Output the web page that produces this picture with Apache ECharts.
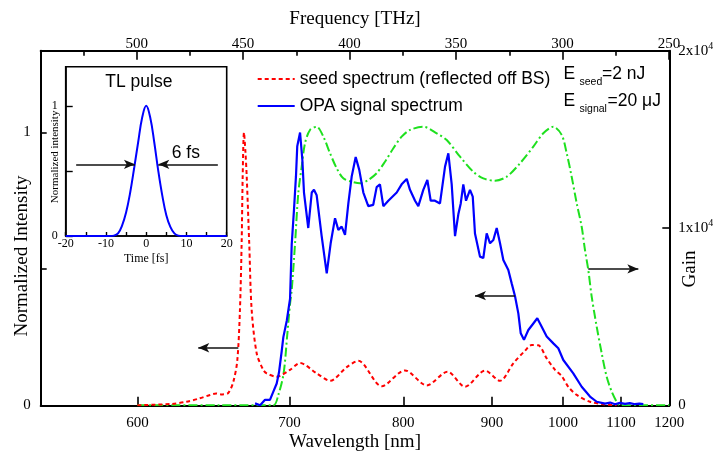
<!DOCTYPE html>
<html><head><meta charset="utf-8">
<script src="https://cdn.jsdelivr.net/npm/echarts@6/dist/echarts.min.js"></script>
<style>html,body{margin:0;padding:0;background:#fff}#c{width:713px;height:451px}</style>
</head><body><div id="c"></div>
<script>
// speed of light in nm*THz
const C = 299792.458;

// ---- tick labels ----
const wavelengthTicks = [600, 700, 800, 900, 1000, 1100, 1200];
const freqMajorTicks = [250, 300, 350, 400, 450, 500];
const freqMinorTicks = [275, 325, 375, 425, 475, 525];
const leftTicks = [0, 0.5, 1];
const leftLabels = [0, 1];
const insetTimeLabels = [-20, -10, 0, 10, 20];

// ---- seed spectrum (reflected off BS): wavelength nm / normalized intensity ----
const seedNm = [600, 620, 629, 637, 644, 648, 652, 656, 659.5, 662.2, 664.0, 665.2, 665.9, 666.8, 667.8, 668.7, 670.5, 672.2, 675.8, 680.5, 683, 690.4, 700.5, 708.3, 721.6, 732.7, 747.0, 757.2, 778.9, 801.6, 824.1, 846.9, 867.0, 891.2, 910.3, 927.9, 943.9, 953.4, 962.8, 975.2, 987.8, 998.1, 1008.5, 1022.1, 1044.3, 1067.5, 1092];
const seedVal = [0, 0.005, 0.013, 0.025, 0.038, 0.043, 0.04, 0.045, 0.087, 0.166, 0.35, 0.6, 0.84, 1.0, 0.93, 0.84, 0.59, 0.35, 0.19, 0.13, 0.117, 0.105, 0.13, 0.155, 0.117, 0.09, 0.14, 0.163, 0.07, 0.128, 0.073, 0.123, 0.068, 0.127, 0.09, 0.154, 0.2, 0.221, 0.22, 0.172, 0.13, 0.107, 0.068, 0.038, 0.013, 0.004, 0];

// ---- OPA signal spectrum ----
const opaNm = [674.6, 678.2, 681.8, 685.4, 687.9, 690.4, 692.1, 694.2, 695.4, 698, 700.5, 701.8, 703.6, 705.1, 706.1, 708.3, 710.1, 711.4, 714.8, 717.6, 719.4, 721.6, 725.7, 729.9, 733.2, 736.9, 739.7, 742.6, 745.5, 748.4, 751.4, 754.9, 758.1, 761.8, 766.3, 770.9, 774.1, 777.2, 780.4, 785.2, 793.4, 798.3, 803.4, 806.7, 811.9, 815.3, 820.5, 824.8, 828.4, 833, 838.5, 844.1, 847.8, 851.6, 855.4, 859.2, 862, 865, 868.2, 872.9, 876.2, 878.9, 885, 889.1, 893.3, 897.5, 901.7, 906, 910.3, 914.6, 921.2, 925.7, 930.2, 934.7, 938, 942.5, 948.6, 955.7, 961.4, 967.8, 975.2, 985.2, 992.8, 1000.6, 1016.5, 1030.3, 1044.3, 1055.9, 1070.6, 1080, 1088.9, 1098, 1107.8, 1117, 1127.3, 1136, 1144.1];
const opaVal = [0.007, 0, 0.02, 0.02, 0.05, 0.08, 0.12, 0.2, 0.25, 0.31, 0.39, 0.59, 0.72, 0.84, 0.95, 1.0, 0.9, 0.78, 0.65, 0.78, 0.79, 0.77, 0.62, 0.484, 0.594, 0.686, 0.643, 0.655, 0.625, 0.74, 0.84, 0.91, 0.863, 0.78, 0.73, 0.735, 0.8, 0.81, 0.73, 0.75, 0.78, 0.81, 0.83, 0.79, 0.75, 0.73, 0.79, 0.826, 0.75, 0.75, 0.74, 0.875, 0.924, 0.81, 0.62, 0.7, 0.74, 0.81, 0.75, 0.79, 0.765, 0.63, 0.545, 0.54, 0.63, 0.594, 0.606, 0.65, 0.594, 0.533, 0.496, 0.447, 0.4, 0.337, 0.264, 0.24, 0.276, 0.3, 0.319, 0.288, 0.252, 0.227, 0.209, 0.166, 0.117, 0.068, 0.032, 0.013, 0.006, 0.01, 0.004, 0.009, 0.005, 0.008, 0.004, 0.006, 0.004];

// ---- OPA gain (right axis) ----
const gainNm = [600, 650, 687.9, 691.6, 695.6, 698.4, 700.5, 701.8, 704.4, 706.9, 709.6, 712.2, 716.2, 721.6, 727.1, 732.7, 738.3, 744, 751.4, 758.8, 766.3, 774.1, 782, 790.1, 798.3, 806.7, 820.5, 834.9, 846, 861.2, 876.9, 889.1, 903.8, 919, 937, 955.7, 970.2, 985.2, 998.1, 1006, 1013.9, 1022.1, 1030.3, 1035.8, 1041.4, 1047.2, 1055.9, 1064.7, 1073.6, 1082.8, 1092, 1098.2, 1200];
const gainVal = [0, 0, 0, 580, 1800, 4000, 5700, 6500, 9140, 11960, 13460, 14780, 15530, 15710, 15150, 14210, 13370, 12800, 12610, 12520, 12710, 13090, 13740, 14500, 15150, 15530, 15710, 15340, 14960, 14020, 13170, 12800, 12670, 12890, 13650, 14590, 15340, 15710, 15250, 14210, 12890, 11390, 10070, 8760, 7630, 6130, 4430, 2930, 1610, 770, 200, 0, 0];

// ---- inset: transform-limited pulse ----
const pulseT = [-20, -15, -10, -9, -8, -7, -6, -5, -4, -3, -2, -1, 0, 1, 2, 3, 4, 5, 6, 7, 8, 9, 10, 15, 20];
const pulseI = [0, 0, 0, 0, 0.003, 0.02, 0.08, 0.18, 0.33, 0.52, 0.72, 0.91, 1.0, 0.91, 0.72, 0.5, 0.31, 0.16, 0.07, 0.02, 0.003, 0, 0, 0, 0];

// ---- annotation arrows (data coordinates) ----
const seedArrow = {fromNm: 662.9, toNm: 636.4, y: 0.211};
const opaArrow = {fromNm: 930.2, toNm: 878.9, y: 0.402};
const gainArrow = {fromNm: 1041.4, toNm: 1134, y: 7690};
const fwhmArrows = [{from: -17.4, to: -2.8, y: 0.55}, {from: 17.8, to: 3.0, y: 0.55}];

const serif = 'Liberation Serif';
const sans = 'Liberation Sans';
const toF = nm => C / nm;
const pairs = (xs, ys, fx) => xs.map((x, i) => [fx ? fx(x) : x, ys[i]]);

const arrowLine = (x1, x2, y) => [{coord: [x1, y]}, {coord: [x2, y]}];
const markArrows = (list) => ({
  silent: true, symbol: ['none', 'arrow'], symbolSize: [7, 11],
  label: {show: false}, lineStyle: {color: '#111', width: 1.5, type: 'solid'},
  emphasis: {disabled: true}, animation: false, data: list
});

const mkLine = (w) => ({show: true, onZero: false, lineStyle: {color: '#000', width: w}});
const mkTick = (len, w, values) => {
  const t = {show: true, inside: true, length: len, lineStyle: {color: '#000', width: w}};
  if (values) t.customValues = values;
  return t;
};
const fMin = C / 1200, fMax = C / 550;

const option = {
  animation: false,
  backgroundColor: '#fff',
  grid: [
    {left: 40.7, top: 50.7, right: 43.7, bottom: 45.7, containLabel: false, outerBoundsMode: 'none'},
    {left: 65.7, top: 66.7, width: 161, height: 169.3, show: true, borderColor: '#000', borderWidth: 1.6, backgroundColor: 'transparent', containLabel: false, outerBoundsMode: 'none'}
  ],
  legend: {
    show: true, orient: 'vertical', left: 251.7, top: 64.5, itemWidth: 37, itemHeight: 12, itemGap: 8,
    selectedMode: false, itemStyle: {opacity: 0},
    textStyle: {fontFamily: sans, fontSize: 17.5, color: '#000', lineHeight: 19},
    data: ['seed spectrum (reflected off BS)', 'OPA signal spectrum']
  },
  xAxis: [
    { // bottom: wavelength labels placed on the frequency scale
      type: 'value', gridIndex: 0, position: 'bottom', min: fMin, max: fMax, inverse: true,
      axisLine: mkLine(2),
      axisTick: mkTick(8.5, 1.6, wavelengthTicks.map(toF)),
      axisLabel: {show: true, customValues: wavelengthTicks.map(toF), formatter: v => String(Math.round(C / v)), margin: 10.5, fontFamily: serif, fontSize: 15, color: '#000'},
      splitLine: {show: false},
      name: 'Wavelength [nm]', nameLocation: 'middle', nameGap: 27, nameMoveOverlap: false,
      nameTextStyle: {fontFamily: serif, fontSize: 19, color: '#000'}
    },
    { // top: frequency (major ticks + labels)
      type: 'value', gridIndex: 0, position: 'top', min: fMin, max: fMax, inverse: true,
      axisLine: mkLine(2),
      axisTick: mkTick(9, 1.6, freqMajorTicks),
      axisLabel: {show: true, customValues: freqMajorTicks, margin: -0.5, fontFamily: serif, fontSize: 15, color: '#000'},
      splitLine: {show: false},
      name: 'Frequency [THz]', nameLocation: 'middle', nameGap: 22, nameMoveOverlap: false,
      nameTextStyle: {fontFamily: serif, fontSize: 19, color: '#000'}
    },
    { // top: frequency minor ticks
      type: 'value', gridIndex: 0, position: 'top', min: fMin, max: fMax, inverse: true,
      axisLine: {show: false, onZero: false},
      axisTick: mkTick(5, 1.6, freqMinorTicks),
      axisLabel: {show: false}, splitLine: {show: false}
    },
    { // inset time axis
      type: 'value', gridIndex: 1, position: 'bottom', min: -20, max: 20, interval: 5,
      axisLine: mkLine(1.6),
      axisTick: mkTick(4, 1.4),
      axisLabel: {show: true, customValues: insetTimeLabels, margin: 2, fontFamily: serif, fontSize: 12, color: '#000'},
      splitLine: {show: false},
      name: 'Time [fs]', nameLocation: 'middle', nameGap: 17, nameMoveOverlap: false,
      nameTextStyle: {fontFamily: serif, fontSize: 12, color: '#000'}
    }
  ],
  yAxis: [
    {
      type: 'value', gridIndex: 0, position: 'left', min: 0, max: 1.3,
      axisLine: mkLine(2),
      axisTick: mkTick(6, 1.6, leftTicks),
      axisLabel: {show: true, customValues: leftLabels, margin: 10, fontFamily: serif, fontSize: 15, color: '#000'},
      splitLine: {show: false},
      name: 'Normalized Intensity', nameLocation: 'middle', nameGap: 9, nameMoveOverlap: false,
      nameTextStyle: {fontFamily: serif, fontSize: 19, color: '#000', padding: [0, 56, 0, 0]}
    },
    {
      type: 'value', gridIndex: 0, position: 'right', min: 0, max: 20000, interval: 10000,
      axisLine: mkLine(2),
      axisTick: mkTick(7, 1.6),
      axisLabel: {
        show: true, margin: 9, fontFamily: serif, fontSize: 15, color: '#000',
        formatter: v => v === 0 ? '0' : (v / 10000) + 'x10{sup|4}',
        rich: {sup: {fontFamily: serif, fontSize: 10, color: '#000', padding: [0, 0, 9, 0]}}
      },
      splitLine: {show: false},
      name: 'Gain', nameLocation: 'middle', nameGap: 11, nameMoveOverlap: false,
      nameTextStyle: {fontFamily: serif, fontSize: 19, color: '#000', padding: [0, 82, 0, 0]}
    },
    {
      type: 'value', gridIndex: 1, position: 'left', min: 0, max: 1.3,
      axisLine: mkLine(1.6),
      axisTick: mkTick(7, 1.4, leftTicks),
      axisLabel: {show: true, customValues: leftLabels, margin: 8, fontFamily: serif, fontSize: 12, color: '#000'},
      splitLine: {show: false},
      name: 'Normalized intensity', nameLocation: 'middle', nameGap: 5, nameMoveOverlap: false,
      nameTextStyle: {fontFamily: serif, fontSize: 11, color: '#000', padding: [0, 11, 0, 0]}
    }
  ],
  series: [
    {
      name: 'Gain', type: 'line', xAxisIndex: 0, yAxisIndex: 1, symbol: 'none', smooth: 0.3,
      data: pairs(gainNm, gainVal, toF),
      lineStyle: {color: '#1ee01e', width: 2, type: [9, 3, 2, 3]}, itemStyle: {color: '#1ee01e'},
      markLine: markArrows([arrowLine(toF(gainArrow.fromNm), toF(gainArrow.toNm), gainArrow.y)])
    },
    {
      name: 'seed spectrum (reflected off BS)', type: 'line', xAxisIndex: 0, yAxisIndex: 0, symbol: 'none', smooth: 0.3,
      data: pairs(seedNm, seedVal, toF),
      lineStyle: {color: '#ff0000', width: 2, type: [4, 3]}, itemStyle: {color: '#ff0000'},
      markLine: markArrows([arrowLine(toF(seedArrow.fromNm), toF(seedArrow.toNm), seedArrow.y)])
    },
    {
      name: 'OPA signal spectrum', type: 'line', xAxisIndex: 0, yAxisIndex: 0, symbol: 'none',
      data: pairs(opaNm, opaVal, toF),
      lineStyle: {color: '#0000ff', width: 2.2}, itemStyle: {color: '#0000ff'},
      markLine: markArrows([arrowLine(toF(opaArrow.fromNm), toF(opaArrow.toNm), opaArrow.y)])
    },
    {
      name: 'TL pulse', type: 'line', xAxisIndex: 3, yAxisIndex: 2, symbol: 'none', smooth: 0.4,
      data: pairs(pulseT, pulseI),
      lineStyle: {color: '#0000ff', width: 2}, itemStyle: {color: '#0000ff'},
      markLine: markArrows(fwhmArrows.map(a => arrowLine(a.from, a.to, a.y)))
    }
  ],
  graphic: [
    {type: 'text', x: 138.8, y: 82.5, style: {text: 'TL pulse', font: '17.5px "Liberation Sans"', fill: '#000', textAlign: 'center', textVerticalAlign: 'middle'}},
    {type: 'text', x: 185.8, y: 153, style: {text: '6 fs', font: '17.5px "Liberation Sans"', fill: '#000', textAlign: 'center', textVerticalAlign: 'middle'}},
    {type: 'text', x: 563.5, y: 74.5, style: {text: 'E', font: '17.5px "Liberation Sans"', fill: '#000', textAlign: 'left', textVerticalAlign: 'middle'}},
    {type: 'text', x: 579.5, y: 82, style: {text: 'seed', font: '10.5px "Liberation Sans"', fill: '#000', textAlign: 'left', textVerticalAlign: 'middle'}},
    {type: 'text', x: 602, y: 74.5, style: {text: '=2 nJ', font: '17.5px "Liberation Sans"', fill: '#000', textAlign: 'left', textVerticalAlign: 'middle'}},
    {type: 'text', x: 563.5, y: 101.5, style: {text: 'E', font: '17.5px "Liberation Sans"', fill: '#000', textAlign: 'left', textVerticalAlign: 'middle'}},
    {type: 'text', x: 579.5, y: 109, style: {text: 'signal', font: '10.5px "Liberation Sans"', fill: '#000', textAlign: 'left', textVerticalAlign: 'middle'}},
    {type: 'text', x: 607.5, y: 101.5, style: {text: '=20 \u03bcJ', font: '17.5px "Liberation Sans"', fill: '#000', textAlign: 'left', textVerticalAlign: 'middle'}}
  ]
};

const chart = echarts.init(document.getElementById('c'), null, {renderer: 'canvas'});
chart.setOption(option);
</script>
</body></html>
